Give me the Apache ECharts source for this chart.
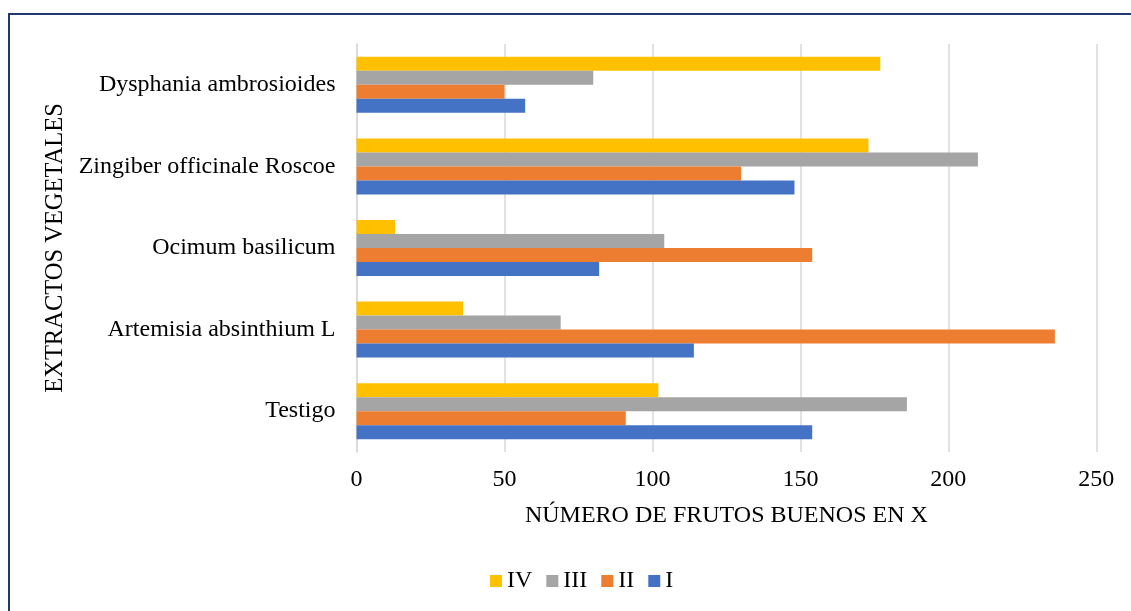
<!DOCTYPE html>
<html>
<head>
<meta charset="utf-8">
<script src="https://cdn.jsdelivr.net/npm/echarts@6/dist/echarts.min.js"></script>
<style>
  html, body { margin: 0; padding: 0; background: #fff; overflow: hidden; }
  #chart { position: absolute; left: 0; top: 0; width: 1131px; height: 611px; }
  #frame { position: absolute; left: 8px; top: 13px; width: 2000px; height: 2000px;
           border: 2px solid #1F3A6E; box-sizing: border-box; pointer-events: none; }
</style>
</head>
<body>
<div id="chart"></div>
<div id="frame"></div>
<script>
// Plant extracts, listed from the bottom of the axis upwards
const categories = [
  'Testigo',
  'Artemisia absinthium L',
  'Ocimum basilicum',
  'Zingiber officinale Roscoe',
  'Dysphania ambrosioides'
];

// Good fruits counted per repetition
const seriesI   = [154, 114,  82, 148,  57];
const seriesII  = [ 91, 236, 154, 130,  50];
const seriesIII = [186,  69, 104, 210,  80];
const seriesIV  = [102,  36,  13, 173, 177];

const xTicks = { min: 0, max: 250, interval: 50 };
const legendOrder = ['IV', 'III', 'II', 'I'];

const FONT = '"Liberation Serif", "Times New Roman", serif';
const colors = { I: '#4472C4', II: '#ED7D31', III: '#A5A5A5', IV: '#FFC000' };

const chart = echarts.init(document.getElementById('chart'), null, { renderer: 'canvas' });

function bar(name, data) {
  return {
    name: name,
    type: 'bar',
    data: data,
    barWidth: 14,
    barGap: '0%',
    itemStyle: { color: colors[name] },
    emphasis: { disabled: true },
    animation: false
  };
}

chart.setOption({
  animation: false,
  textStyle: { fontFamily: FONT },
  grid: { left: 356.5, right: 34.7, top: 44, bottom: 159, containLabel: false },
  legend: {
    data: legendOrder,
    left: 490,
    top: 569,
    padding: 0,
    itemWidth: 12,
    itemHeight: 12,
    itemGap: 14,
    icon: 'rect',
    textStyle: { fontFamily: FONT, fontSize: 24, color: '#000' }
  },
  xAxis: {
    type: 'value',
    min: xTicks.min,
    max: xTicks.max,
    interval: xTicks.interval,
    name: 'NÚMERO DE FRUTOS BUENOS EN X',
    nameLocation: 'middle',
    nameGap: 52,
    nameTextStyle: { fontFamily: FONT, fontSize: 24, color: '#000' },
    axisLine: { show: false },
    axisTick: { show: false },
    axisLabel: { fontFamily: FONT, fontSize: 24, color: '#000', margin: 16 },
    splitLine: { show: true, lineStyle: { color: '#D9D9D9', width: 1.5 } }
  },
  yAxis: {
    type: 'category',
    data: categories,
    name: 'EXTRACTOS VEGETALES',
    nameLocation: 'middle',
    nameGap: 287,
    nameRotate: 90,
    nameTextStyle: { fontFamily: FONT, fontSize: 24.5, color: '#000' },
    axisLine: { show: true, lineStyle: { color: '#D9D9D9', width: 1.5 } },
    axisTick: { show: false },
    axisLabel: { fontFamily: FONT, fontSize: 24, color: '#000', margin: 21 },
    splitLine: { show: false }
  },
  // Within each category the first series sits on top, so IV comes first
  series: [
    bar('IV', seriesIV),
    bar('III', seriesIII),
    bar('II', seriesII),
    bar('I', seriesI)
  ]
});
</script>
</body>
</html>
